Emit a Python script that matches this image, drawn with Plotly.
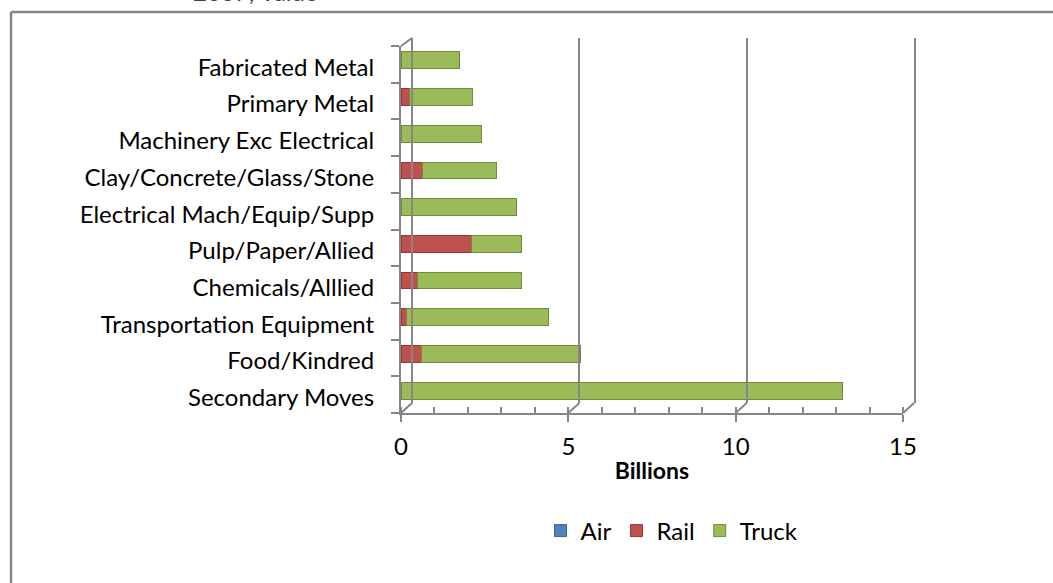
import plotly.graph_objects as go

categories = ["Secondary Moves", "Food/Kindred", "Transportation Equipment", "Chemicals/Alllied",
              "Pulp/Paper/Allied", "Electrical Mach/Equip/Supp", "Clay/Concrete/Glass/Stone",
              "Machinery Exc Electrical", "Primary Metal", "Fabricated Metal"]
air = [0.0, 0.0, 0.0, 0.0, 0.0, 0.0, 0.0, 0.0, 0.0, 0.0]
rail = [0.0, 0.6, 0.15, 0.5, 2.1, 0.0, 0.65, 0.0, 0.25, 0.0]
truck = [13.2, 4.75, 4.25, 3.1, 1.5, 3.45, 2.2, 2.4, 1.9, 1.75]
x_ticks = [0, 5, 10, 15]
title_text = "2007, Value"

W, H = 1053, 583
FONT = "Lato"
FS = 24
GRAY = "#868686"

def fx(p):
    return p / W

def fy(p):
    return 1 - p / H

X0, X1 = 401, 903          # front axis pixel span for 0..15
DX, DY = 11, 10            # 3D depth offset
YT, YB = 46, 413           # front wall top/bottom
unit = (X1 - X0) / 15.0

fig = go.Figure()
fig.add_trace(go.Bar(name="Air", y=categories, x=air, orientation="h", yaxis="y2",
                     marker=dict(color="#4F81BD", line=dict(color="#3A6190", width=1))))
fig.add_trace(go.Bar(name="Rail", y=categories, x=rail, orientation="h", yaxis="y2",
                     marker=dict(color="#C0504D", line=dict(color="#8E3A38", width=1))))
fig.add_trace(go.Bar(name="Truck", y=categories, x=truck, orientation="h", yaxis="y2",
                     marker=dict(color="#9BBB59", line=dict(color="#6F8A3C", width=1))))
# empty helper traces so that the label axis and back-wall axes are drawn
fig.add_trace(go.Scatter(x=[], y=[], xaxis="x", yaxis="y", showlegend=False, hoverinfo="skip"))
fig.add_trace(go.Scatter(x=[], y=[], xaxis="x2", yaxis="y3", showlegend=False, hoverinfo="skip"))

shapes = []
# outer frame (top and left)
shapes.append(dict(type="line", xref="paper", yref="paper", x0=fx(11), y0=fy(12), x1=1.0, y1=fy(12),
                   line=dict(color=GRAY, width=2.5)))
shapes.append(dict(type="line", xref="paper", yref="paper", x0=fx(11), y0=fy(12), x1=fx(11), y1=0.0,
                   line=dict(color=GRAY, width=2.5)))
# depth connectors at bottom
for t in x_ticks:
    px = X0 + t * unit
    shapes.append(dict(type="line", xref="paper", yref="paper", x0=fx(px), y0=fy(YB),
                       x1=fx(px + DX), y1=fy(YB - DY), line=dict(color=GRAY, width=2)))
# depth connector at top-left
shapes.append(dict(type="line", xref="paper", yref="paper", x0=fx(X0), y0=fy(YT),
                   x1=fx(X0 + DX), y1=fy(YT - 8), line=dict(color=GRAY, width=2)))

fig.update_layout(
    width=W, height=H, autosize=False,
    margin=dict(l=0, r=0, t=0, b=0, pad=0, autoexpand=False),
    paper_bgcolor="white", plot_bgcolor="rgba(0,0,0,0)",
    barmode="stack", bargap=0.54,
    font=dict(family=FONT, size=FS, color="#000000"),
    showlegend=True,
    legend=dict(orientation="h", x=fx(672), xanchor="center", y=fy(531), yanchor="middle",
                font=dict(family=FONT, size=FS), traceorder="normal", itemwidth=30),
    xaxis=dict(domain=[fx(X0), fx(X1)], range=[0, 15], tickvals=x_ticks, ticks="outside",
               ticklen=7, tickwidth=2, tickcolor=GRAY, showline=True, linecolor=GRAY, linewidth=2,
               showgrid=False, zeroline=False, anchor="y", ticklabelstandoff=4, automargin=False,
               minor=dict(ticks="inside", dtick=1, ticklen=6, tickwidth=1.5, tickcolor=GRAY, showgrid=False),
               title=dict(text="<b>Billions</b>", font=dict(family=FONT, size=FS - 1), standoff=4),
               tickfont=dict(family=FONT, size=FS)),
    yaxis=dict(domain=[fy(YB), fy(YT)], range=[-0.5, len(categories) - 0.5],
               tickvals=list(range(len(categories))), ticktext=categories,
               ticks="", showline=True, linecolor=GRAY, linewidth=2, showgrid=False, zeroline=False,
               anchor="x", ticklabelstandoff=20, ticklabelshift=3, automargin=False,
               minor=dict(ticks="outside", tick0=-0.5, dtick=1, ticklen=8, tickwidth=1.5, tickcolor=GRAY,
                          showgrid=False),
               tickfont=dict(family=FONT, size=FS)),
    yaxis2=dict(domain=[fy(YB - 4), fy(YT - 4)], categoryorder="array", categoryarray=categories,
                visible=False, anchor="x", automargin=False),
    xaxis2=dict(domain=[fx(X0 + DX), fx(X1 + DX)], range=[0, 15], dtick=5, showgrid=True,
                gridcolor=GRAY, gridwidth=2, zeroline=True, zerolinecolor=GRAY, zerolinewidth=2,
                showticklabels=False, ticks="", showline=False, anchor="y3", automargin=False),
    yaxis3=dict(domain=[fy(YB - DY), fy(YT - 8)], range=[0, 1], side="right", showline=True,
                linecolor=GRAY, linewidth=2, showgrid=False, zeroline=False, showticklabels=False,
                ticks="", anchor="x2", automargin=False),
    shapes=shapes,
    annotations=[dict(text=title_text, xref="paper", yref="paper", x=fx(255), y=fy(8),
                      xanchor="center", yanchor="bottom", showarrow=False,
                      font=dict(family=FONT, size=24, color="#404040"))],
)

fig.write_html("out.html", config={"displayModeBar": False, "responsive": False},
               post_script="document.body.style.margin='0px';document.body.style.overflow='hidden';")
